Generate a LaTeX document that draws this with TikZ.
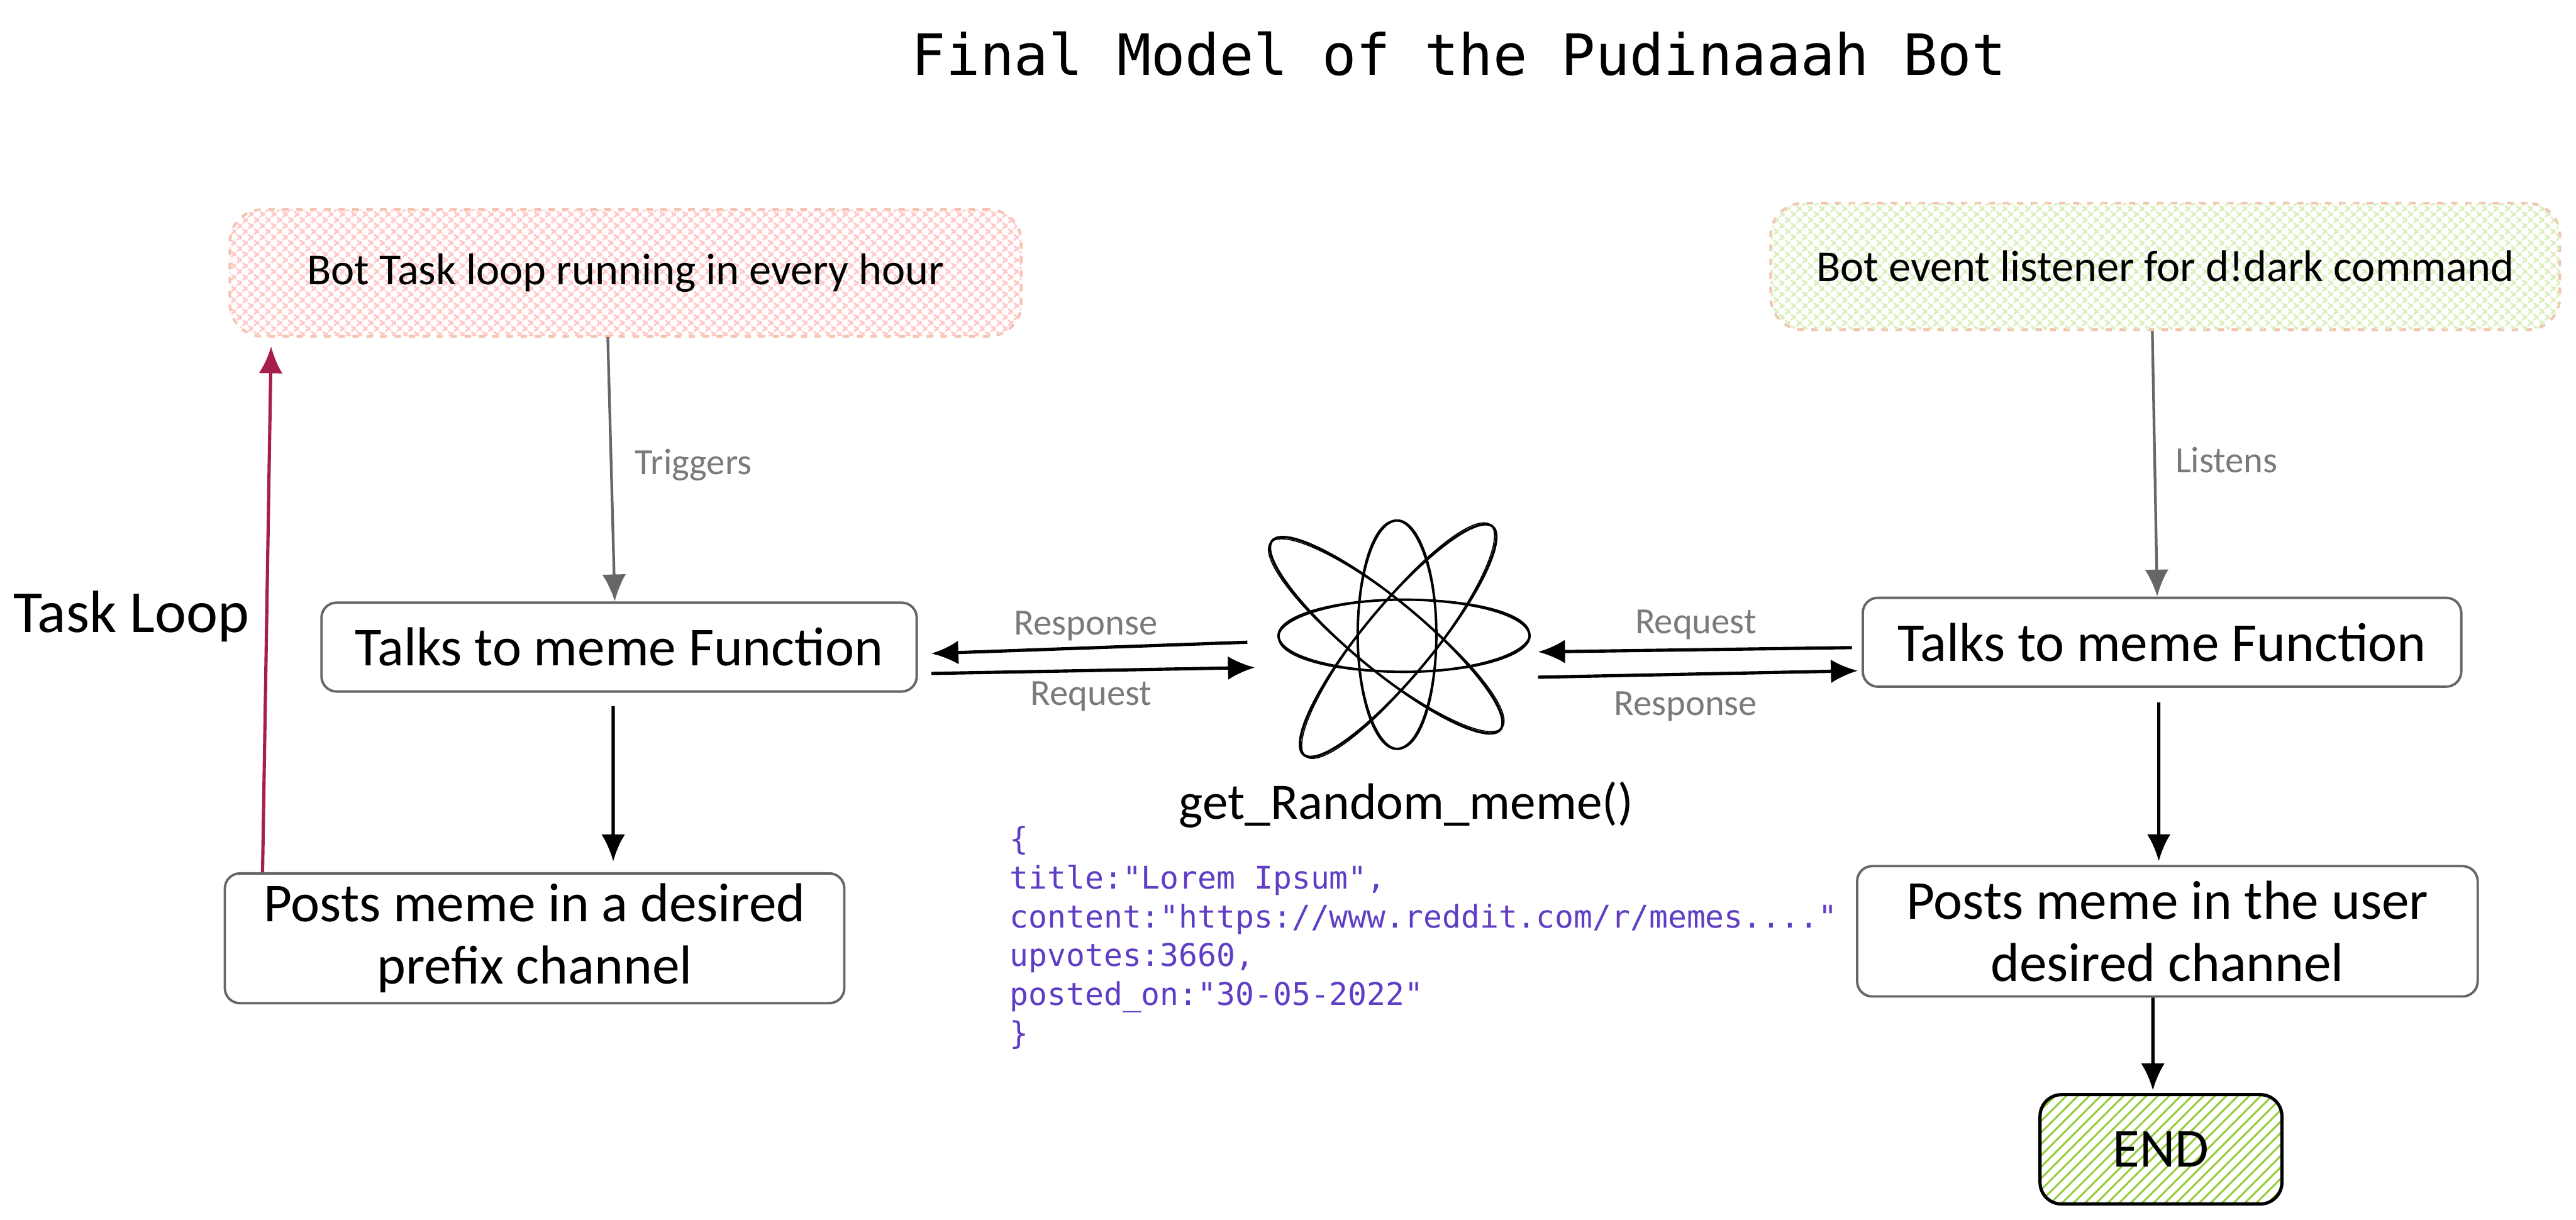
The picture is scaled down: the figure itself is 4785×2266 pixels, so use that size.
\documentclass[tikz,border=0pt]{standalone}
\usepackage{fontspec}
\usetikzlibrary{arrows.meta,patterns.meta,shapes.geometric}
\setmainfont{Carlito}
\newfontfamily\monofam{DejaVu Sans Mono}
\definecolor{boxgray}{HTML}{666666}
\definecolor{notegray}{HTML}{7A7A7A}
\definecolor{loopred}{HTML}{A61E4D}
\definecolor{codeviolet}{HTML}{5F3DC4}
\definecolor{hatchred}{HTML}{FFC9C9}
\definecolor{edgepeach}{HTML}{F4C4B0}
\definecolor{hatchgreen}{HTML}{DCEFBE}
\definecolor{endgreen}{HTML}{94CC3A}
\begin{document}
\begin{tikzpicture}[
    x=0.01cm,y=-0.01cm,
    every node/.style={inner sep=0pt},
    hand/.style={font=\fontsize{29}{33}\selectfont, align=center},
    handsmall/.style={font=\fontsize{23.4}{27}\selectfont},
    note/.style={font=\fontsize{19.5}{23}\selectfont, text=notegray},
    bx/.style={draw=boxgray, rounded corners=0.28cm, line width=0.045cm, hand},
    loophatch/.style={rounded corners=0.6cm, draw=edgepeach, dash pattern=on 0.12cm off 0.14cm, line width=0.05cm, handsmall,
        pattern={Lines[angle=45,distance=0.15cm,line width=0.035cm]}, pattern color=hatchred,
        postaction={pattern={Lines[angle=-45,distance=0.15cm,line width=0.035cm]}, pattern color=hatchred}},
    eventhatch/.style={rounded corners=0.6cm, draw=edgepeach, dash pattern=on 0.12cm off 0.14cm, line width=0.05cm, handsmall,
        pattern={Lines[angle=45,distance=0.15cm,line width=0.035cm]}, pattern color=hatchgreen,
        postaction={pattern={Lines[angle=-45,distance=0.15cm,line width=0.035cm]}, pattern color=hatchgreen}},
    endbox/.style={draw=black, rounded corners=0.4cm, line width=0.06cm, font=\fontsize{29}{33}\selectfont,
        pattern={Lines[angle=45,distance=0.15cm,line width=0.035cm]}, pattern color=endgreen},
    orbit/.style={draw=black, ellipse, line width=0.045cm},
    flow/.style={-{Latex[length=0.5cm,width=0.44cm]}, line width=0.06cm},
    flowgray/.style={-{Latex[length=0.5cm,width=0.44cm]}, line width=0.05cm, draw=boxgray, fill=boxgray}
]
    \useasboundingbox (0,0) rectangle (4785,2266);

    \node[font=\monofam\fontsize{30}{36}\selectfont] (title) at (2710,100) {Final Model of the Pudinaaah Bot};

    \node[loophatch, minimum width=14.69cm, minimum height=2.35cm] (taskloop) at (1162,507) {Bot Task loop running in every hour};
    \node[eventhatch, minimum width=14.65cm, minimum height=2.35cm] (listener) at (4022,495) {Bot event listener for d!dark command};

    \node[bx, minimum width=11.05cm, minimum height=1.65cm] (talksleft) at (1150,1202) {Talks to meme Function};
    \node[bx, minimum width=11.11cm, minimum height=1.65cm] (talksright) at (4016,1193) {Talks to meme Function};
    \node[bx, minimum width=11.5cm, minimum height=2.41cm] (postsleft) at (993,1743) {Posts meme in a desired\\prefix channel};
    \node[bx, minimum width=11.52cm, minimum height=2.42cm] (postsright) at (4026,1730) {Posts meme in the user\\desired channel};
    \node[endbox, minimum width=4.49cm, minimum height=2.03cm] (finish) at (4014,2135) {END};

    \foreach \nm/\cx/\cy/\ang/\bw/\bh in {atom/2608/1181/0/4.66/1.34, atomv/2595/1179/90/4.24/1.46, atoma/2575/1180/-39.6/5.5/1.3, atomb/2597/1190/50.4/5.5/1.3} {
        \node[orbit, rotate=\ang, minimum width=\bw cm, minimum height=\bh cm] (\nm) at (\cx,\cy) {};
        \node[orbit, rotate=\ang+1, line width=0.02cm, minimum width=\bw cm, minimum height=\bh cm] (\nm b) at (\cx,\cy) {};
    }

    \node[font=\fontsize{27}{31}\selectfont] (atomname) at (2612,1495) {get\_Random\_meme()};
    \node[font=\monofam\fontsize{16.5}{20.5}\selectfont, text=codeviolet, align=left, anchor=west] (payload) at (1875,1742) {\{\\title:"Lorem Ipsum",\\content:"https://www.reddit.com/r/memes...."\\upvotes:3660,\\posted\_on:"30-05-2022"\\\}};
    \node[font=\fontsize{31.5}{36}\selectfont] (looplabel) at (244,1145) {Task Loop};

    \draw[flowgray] ([xshift=-0.33cm]taskloop.south) -- ([xshift=-0.08cm]talksleft.north);
    \draw[flowgray] ([xshift=-0.24cm]listener.south) -- ([xshift=-0.09cm]talksright.north);
    \draw[flow] ([xshift=-0.11cm,yshift=-0.25cm]talksleft.south) -- ([xshift=1.46cm,yshift=0.2cm]postsleft.north);
    \draw[flow] ([xshift=-0.06cm,yshift=-0.27cm]talksright.south) -- ([xshift=-0.16cm,yshift=0.07cm]postsright.north);
    \draw[flow] ([xshift=-0.27cm]postsright.south) -- ([xshift=-0.15cm,yshift=0.05cm]finish.north);
    \draw[flow, draw=loopred, fill=loopred] ([xshift=-5.05cm]postsleft.north) -- ([xshift=-6.58cm,yshift=-0.17cm]taskloop.south);

    \node[note] (triggers) at (1288,864) {Triggers};
    \node[note] (listens) at (4136,855) {Listens};
    \node[note] (respleft) at (2017,1163) {Response};
    \node[note] (reqleft) at (2027,1294) {Request};
    \node[note] (reqright) at (3150,1160) {Request};
    \node[note] (respright) at (3131,1312) {Response};

    \coordinate (leftout) at (2317,1193);
    \coordinate (leftin) at (2331,1240);
    \coordinate (rightin) at (2857,1211);
    \coordinate (rightout) at (2857,1258);
    \draw[flow] (leftout) -- ([xshift=0.25cm,yshift=-0.12cm]talksleft.east);
    \draw[flow] ([xshift=0.25cm,yshift=-0.49cm]talksleft.east) -- (leftin);
    \draw[flow] ([xshift=-0.18cm,yshift=-0.1cm]talksright.west) -- (rightin);
    \draw[flow] (rightout) -- ([xshift=-0.07cm,yshift=-0.53cm]talksright.west);
\end{tikzpicture}
\end{document}
